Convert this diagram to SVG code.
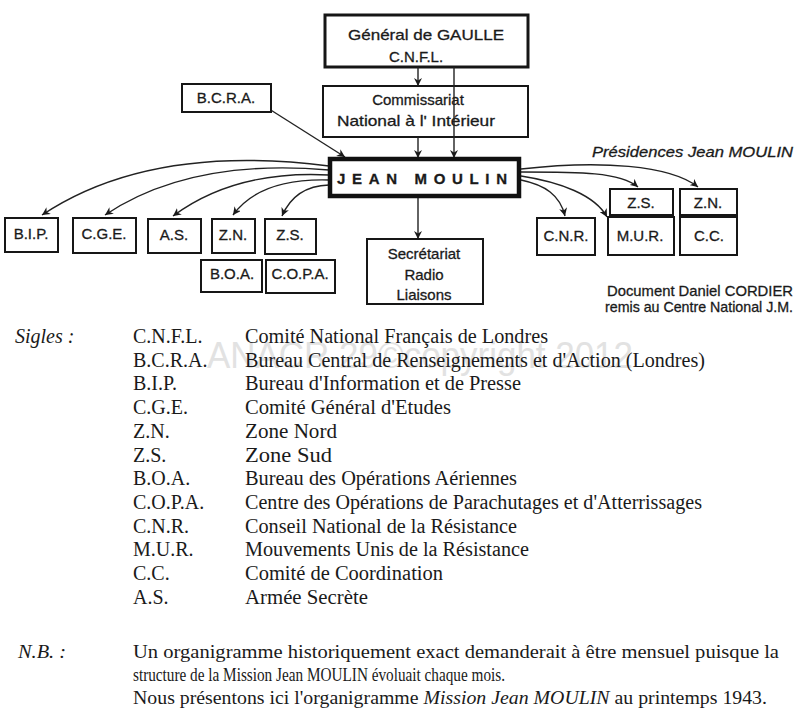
<svg xmlns="http://www.w3.org/2000/svg" width="802" height="715" viewBox="0 0 802 715">
<defs>
<style>
.bx{fill:#fff;stroke:#161616;stroke-width:2}
.bxn{fill:none;stroke:#161616;stroke-width:2}
.bx3{fill:#fff;stroke:#161616;stroke-width:3}
.bx4{fill:#fff;stroke:#111;stroke-width:4.5}
.t{font-family:"Liberation Sans",Arial,sans-serif;fill:#1a1a1a;stroke:#1a1a1a;stroke-width:0.3;font-size:15px}
.c{text-anchor:middle}
.ln{fill:none;stroke:#222;stroke-width:1.4}
.lg{font-family:"Liberation Serif","Times New Roman",serif;fill:#1a1a1a;font-size:20px}
.nb{font-family:"Liberation Serif","Times New Roman",serif;fill:#1a1a1a;font-size:18px}
.it{font-style:italic}
.wm{font-family:"Liberation Sans",Arial,sans-serif;fill:#e2e2e2;font-size:37px}
</style>
<marker id="ah" viewBox="0 0 10 10" refX="10" refY="5" markerWidth="8" markerHeight="8" orient="auto" markerUnits="userSpaceOnUse">
<path d="M0,0 L10,5 L0,10 L3,5 z" fill="#1a1a1a"/>
</marker>
</defs>
<rect width="802" height="715" fill="#fff"/>

<g id="gaulle">
<rect class="bx3" x="325" y="15" width="203" height="52"/>
<text class="t c" x="426" y="40" font-size="16" textLength="156" lengthAdjust="spacingAndGlyphs">Général de GAULLE</text>
<text class="t c" x="416" y="62" font-size="16">C.N.F.L.</text>
</g>

<g id="commissariat">
<rect class="bxn" x="323" y="86" width="205" height="51"/>
<text class="t c" x="418" y="105" font-size="16">Commissariat</text>
<text class="t c" x="416" y="126" font-size="16" textLength="158" lengthAdjust="spacingAndGlyphs">National à l' Intérieur</text>
</g>

<g id="connectors">
<line class="ln" x1="418" y1="67" x2="418" y2="86" marker-end="url(#ah)"/>
<line class="ln" x1="454" y1="67" x2="454" y2="158" marker-end="url(#ah)"/>
<line class="ln" x1="418" y1="137" x2="418" y2="158" marker-end="url(#ah)"/>
<line class="ln" x1="266" y1="107" x2="345" y2="157" marker-end="url(#ah)"/>
<line class="ln" x1="418" y1="197" x2="418" y2="239" marker-end="url(#ah)"/>
<path class="ln" d="M329,166 Q150,143 42,215" marker-end="url(#ah)"/>
<path class="ln" d="M329,170 Q190,158 105,215" marker-end="url(#ah)"/>
<path class="ln" d="M329,175 Q235,170 173,216" marker-end="url(#ah)"/>
<path class="ln" d="M329,180 Q260,178 233,215" marker-end="url(#ah)"/>
<path class="ln" d="M329,185 Q295,186 282,216" marker-end="url(#ah)"/>
<path class="ln" d="M521,169 C600,160 670,165 698,187" marker-end="url(#ah)"/>
<path class="ln" d="M521,172 C580,172 620,172 638,187" marker-end="url(#ah)"/>
<path class="ln" d="M521,176 C560,182 595,195 607,217" marker-end="url(#ah)"/>
<path class="ln" d="M521,180 C545,185 560,195 565,216" marker-end="url(#ah)"/>
</g>

<g id="bcra">
<rect class="bx" x="182" y="84" width="89" height="28"/>
<text class="t c" x="226" y="103">B.C.R.A.</text>
</g>

<g id="jean-moulin">
<rect class="bx4" x="330" y="159" width="189" height="37"/>
<text class="t" x="337" y="184" font-size="19" font-weight="bold" textLength="170" lengthAdjust="spacing">JEAN  MOULIN</text>
</g>

<g id="presidences">
<text class="t it" x="592" y="157" font-size="15" textLength="201" lengthAdjust="spacingAndGlyphs">Présidences Jean MOULIN</text>
</g>

<g id="bip"><rect class="bx" x="5" y="218" width="53" height="34"/><text class="t c" x="31" y="239">B.I.P.</text></g>
<g id="cge"><rect class="bx" x="73" y="218" width="63" height="35"/><text class="t c" x="104" y="239">C.G.E.</text></g>
<g id="as"><rect class="bx" x="148" y="219" width="53" height="34"/><text class="t c" x="174" y="240">A.S.</text></g>
<g id="zn-left"><rect class="bx" x="212" y="219" width="43" height="34"/><text class="t c" x="233" y="240">Z.N.</text></g>
<g id="zs-left"><rect class="bx" x="265" y="219" width="51" height="35"/><text class="t c" x="290" y="240">Z.S.</text></g>
<g id="boa"><rect class="bx" x="201" y="260" width="61" height="32"/><text class="t c" x="232" y="279">B.O.A.</text></g>
<g id="copa"><rect class="bx" x="266" y="260" width="69" height="33"/><text class="t c" x="300" y="279">C.O.P.A.</text></g>

<g id="secretariat">
<rect class="bx" x="367" y="239" width="116" height="65"/>
<text class="t c" x="424" y="259">Secrétariat</text>
<text class="t c" x="424" y="280">Radio</text>
<text class="t c" x="424" y="300">Liaisons</text>
</g>

<g id="cnr"><rect class="bx" x="537" y="218" width="58" height="37"/><text class="t c" x="566" y="241">C.N.R.</text></g>
<g id="zs-right"><rect class="bx" x="610" y="189" width="63" height="26"/><text class="t c" x="641" y="208">Z.S.</text></g>
<g id="zn-right"><rect class="bx" x="680" y="189" width="57" height="26"/><text class="t c" x="708" y="208">Z.N.</text></g>
<g id="mur"><rect class="bx" x="608" y="217" width="66" height="38"/><text class="t c" x="640" y="241">M.U.R.</text></g>
<g id="cc"><rect class="bx" x="680" y="217" width="57" height="38"/><text class="t c" x="709" y="241">C.C.</text></g>

<g id="document">
<text class="t" x="607" y="296" font-size="12" stroke-width="0.2" textLength="186" lengthAdjust="spacingAndGlyphs">Document Daniel CORDIER</text>
<text class="t" x="605" y="312" font-size="12" stroke-width="0.2" textLength="188" lengthAdjust="spacingAndGlyphs">remis au Centre National J.M.</text>
</g>

<text class="wm" x="207" y="368" textLength="426" lengthAdjust="spacingAndGlyphs">ANACR 29©copyright 2012</text>

<g id="legend">
<text class="lg it" x="15" y="343">Sigles :</text>
<text class="lg" x="133" y="343">C.N.F.L.</text>
<text class="lg" x="245" y="343" textLength="303" lengthAdjust="spacingAndGlyphs">Comité National Français de Londres</text>
<text class="lg" x="133" y="366.7">B.C.R.A.</text>
<text class="lg" x="245" y="366.7" textLength="460" lengthAdjust="spacingAndGlyphs">Bureau Central de Renseignements et d'Action (Londres)</text>
<text class="lg" x="133" y="390.4">B.I.P.</text>
<text class="lg" x="245" y="390.4" textLength="276" lengthAdjust="spacingAndGlyphs">Bureau d'Information et de Presse</text>
<text class="lg" x="133" y="414.1">C.G.E.</text>
<text class="lg" x="245" y="414.1" textLength="206" lengthAdjust="spacingAndGlyphs">Comité Général d'Etudes</text>
<text class="lg" x="133" y="437.8">Z.N.</text>
<text class="lg" x="245" y="437.8" textLength="92" lengthAdjust="spacingAndGlyphs">Zone Nord</text>
<text class="lg" x="133" y="461.5">Z.S.</text>
<text class="lg" x="245" y="461.5" textLength="87" lengthAdjust="spacingAndGlyphs">Zone Sud</text>
<text class="lg" x="133" y="485.2">B.O.A.</text>
<text class="lg" x="245" y="485.2" textLength="272" lengthAdjust="spacingAndGlyphs">Bureau des Opérations Aériennes</text>
<text class="lg" x="133" y="508.9">C.O.P.A.</text>
<text class="lg" x="245" y="508.9" textLength="457" lengthAdjust="spacingAndGlyphs">Centre des Opérations de Parachutages et d'Atterrissages</text>
<text class="lg" x="133" y="532.6">C.N.R.</text>
<text class="lg" x="245" y="532.6" textLength="272" lengthAdjust="spacingAndGlyphs">Conseil National de la Résistance</text>
<text class="lg" x="133" y="556.3">M.U.R.</text>
<text class="lg" x="245" y="556.3" textLength="284" lengthAdjust="spacingAndGlyphs">Mouvements Unis de la Résistance</text>
<text class="lg" x="133" y="580">C.C.</text>
<text class="lg" x="245" y="580" textLength="198" lengthAdjust="spacingAndGlyphs">Comité de Coordination</text>
<text class="lg" x="133" y="603.7">A.S.</text>
<text class="lg" x="245" y="603.7" textLength="123" lengthAdjust="spacingAndGlyphs">Armée Secrète</text>
</g>

<g id="nb">
<text class="nb it" x="18" y="658" textLength="48" lengthAdjust="spacingAndGlyphs">N.B. :</text>
<text class="nb" x="133" y="658" textLength="646" lengthAdjust="spacingAndGlyphs">Un organigramme historiquement exact demanderait à être mensuel puisque la</text>
<text class="nb" x="133" y="681" textLength="372" lengthAdjust="spacingAndGlyphs">structure de la Mission Jean MOULIN évoluait chaque mois.</text>
<text class="nb" x="133" y="704" textLength="634" lengthAdjust="spacingAndGlyphs">Nous présentons ici l'organigramme <tspan class="it">Mission Jean MOULIN</tspan> au printemps 1943.</text>
</g>
</svg>
